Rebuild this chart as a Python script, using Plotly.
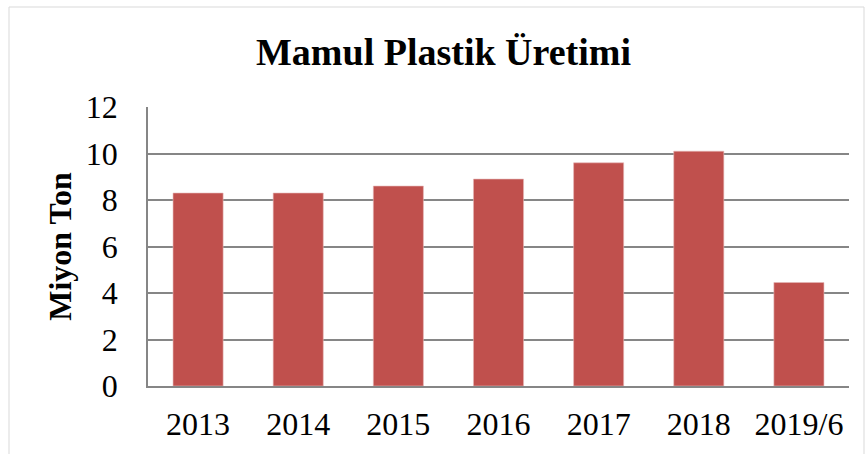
import plotly.graph_objects as go

categories = ["2013", "2014", "2015", "2016", "2017", "2018", "2019/6"]
values = [8.3, 8.3, 8.6, 8.9, 9.6, 10.1, 4.45]
y_ticks = [0, 2, 4, 6, 8, 10, 12]

title_text = "Mamul Plastik Üretimi"
y_title = "Miyon Ton"

FONT = "Liberation Serif, Times New Roman, serif"
W, H = 865, 454
L, R, T, B = 148, 16, 107, 68
pw, ph = W - L - R, H - T - B

fig = go.Figure(go.Bar(
    x=categories, y=values,
    marker=dict(color="#C0504D", line=dict(color="#E6B9B8", width=0.6)),
))

fig.update_layout(
    width=W, height=H,
    margin=dict(l=L, r=R, t=T, b=B, autoexpand=False),
    paper_bgcolor="white", plot_bgcolor="white",
    bargap=0.5,
    showlegend=False,
    font=dict(family=FONT, color="black"),
    title=dict(text="<b>" + title_text + "</b>", x=443.5 / W, xanchor="center",
               y=(H - 52) / H, yanchor="middle",
               font=dict(family=FONT, size=38, color="black")),
    shapes=[dict(type="rect", xref="paper", yref="paper",
                 x0=(9 - L) / pw, x1=(864 - L) / pw,
                 y0=(H - B - 470) / ph, y1=(H - B - 7) / ph,
                 line=dict(color="#D9D9D9", width=1), layer="below")],
)

fig.update_xaxes(
    showline=True, linecolor="#868686", linewidth=1.5,
    showgrid=False, ticks="", tickfont=dict(size=32, family=FONT),
    ticklabelstandoff=9,
)
fig.update_yaxes(
    range=[0, 12], tickvals=y_ticks,
    showgrid=True, gridcolor="#868686", gridwidth=1.5,
    showline=True, linecolor="#868686", linewidth=1.5,
    ticks="", tickfont=dict(size=32, family=FONT),
    ticklabelstandoff=22, zeroline=False,
    title=dict(text="<b>" + y_title + "</b>", font=dict(size=32, family=FONT), standoff=5),
)

fig.write_html("out.html", config={"displayModeBar": False},
               post_script="document.body.style.margin='0';")
